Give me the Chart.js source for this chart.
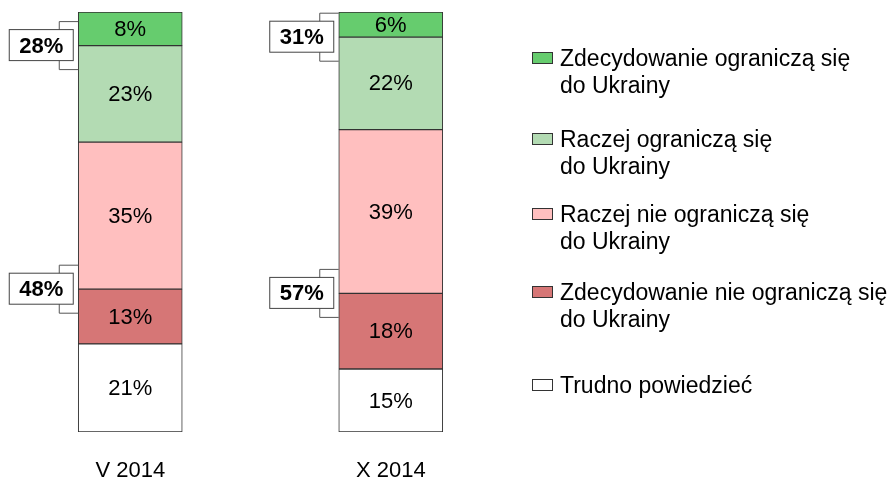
<!DOCTYPE html>
<html>
<head>
<meta charset="utf-8">
<script src="https://cdn.jsdelivr.net/npm/chart.js@4"></script>
<style>
    body { margin: 0; background: #fff; }
    #wrap { width: 892px; height: 483px; position: relative; }
</style>
</head>
<body>
<div id="wrap"><canvas id="chart"></canvas></div>
<script>
// Data (bottom to top of each stack)
const periods = ['V 2014', 'X 2014'];
const seriesNames = [
    'Trudno powiedzieć',
    'Zdecydowanie nie ograniczą się\ndo Ukrainy',
    'Raczej nie ograniczą się\ndo Ukrainy',
    'Raczej ograniczą się\ndo Ukrainy',
    'Zdecydowanie ograniczą się\ndo Ukrainy'
];
const trudno = [21, 15];
const zdecNie = [13, 18];
const raczejNie = [35, 39];
const raczej = [23, 22];
const zdec = [8, 6];
const netYes = [28, 31];
const netNo = [48, 57];

const colors = ['#FFFFFF', '#D67676', '#FFBFBF', '#B3DBB3', '#66CC6E'];
const FONT = '"Liberation Sans", Arial, sans-serif';

// legend rows, top to bottom (baseline of first line)
const legendBaselines = [66, 147, 222, 300, 393];

const labelPlugin = {
    id: 'labels',
    afterDatasetsDraw(chart) {
        const ctx = chart.ctx;
        ctx.save();
        ctx.fillStyle = '#000';
        ctx.textAlign = 'center';
        ctx.textBaseline = 'middle';
        ctx.font = '22px ' + FONT;

        // values in segments
        chart.data.datasets.forEach((ds, i) => {
            chart.getDatasetMeta(i).data.forEach((el, j) => {
                ctx.fillText(ds.data[j] + '%', el.x, (el.y + el.base) / 2 + 1);
            });
        });

        // period labels
        const xs = chart.scales.x;
        periods.forEach((p, j) => {
            ctx.fillText(p, xs.getPixelForValue(j), 471);
        });

        // brackets with net values
        const drawBracket = (el, yMid, value) => {
            const left = el.x - el.width / 2;
            ctx.strokeStyle = '#555';
            ctx.lineWidth = 1;
            ctx.beginPath();
            ctx.moveTo(left, yMid - 24);
            ctx.lineTo(left - 19, yMid - 24);
            ctx.lineTo(left - 19, yMid + 24);
            ctx.lineTo(left, yMid + 24);
            ctx.stroke();
            ctx.fillStyle = '#fff';
            ctx.fillRect(left - 69, yMid - 16, 64, 31);
            ctx.strokeStyle = '#444';
            ctx.strokeRect(left - 69, yMid - 16, 64, 31);
            ctx.fillStyle = '#000';
            ctx.font = 'bold 22px ' + FONT;
            ctx.fillText(value + '%', left - 37, yMid + 1);
        };
        periods.forEach((p, j) => {
            const top = chart.getDatasetMeta(3).data[j];
            const low = chart.getDatasetMeta(1).data[j];
            drawBracket(top, top.y, netYes[j]);
            drawBracket(low, low.y, netNo[j]);
        });

        // legend
        ctx.textAlign = 'left';
        ctx.textBaseline = 'alphabetic';
        ctx.font = '23px ' + FONT;
        for (let k = 0; k < seriesNames.length; k++) {
            const i = seriesNames.length - 1 - k;
            const base = legendBaselines[k];
            ctx.fillStyle = colors[i];
            ctx.fillRect(532.5, base - 13.5, 20, 11);
            ctx.strokeStyle = '#333';
            ctx.strokeRect(532.5, base - 13.5, 20, 11);
            ctx.fillStyle = '#000';
            seriesNames[i].split('\n').forEach((line, n) => {
                ctx.fillText(line, 560, base + n * 27);
            });
        }
        ctx.restore();
    }
};

const values = [trudno, zdecNie, raczejNie, raczej, zdec];

new Chart(document.getElementById('chart'), {
    type: 'bar',
    data: {
        labels: periods,
        datasets: values.map((data, i) => ({
            label: seriesNames[i],
            data,
            backgroundColor: colors[i],
            borderColor: '#333',
            borderWidth: 1,
            borderSkipped: false,
            barThickness: 104
        }))
    },
    options: {
        responsive: true,
        maintainAspectRatio: false,
        animation: false,
        layout: { padding: { left: 0, right: 371, top: 12, bottom: 51 } },
        plugins: { legend: { display: false }, tooltip: { enabled: false } },
        scales: {
            x: { stacked: true, display: false },
            y: { stacked: true, display: false, min: 0, max: 100 }
        }
    },
    plugins: [labelPlugin]
});
</script>
</body>
</html>
